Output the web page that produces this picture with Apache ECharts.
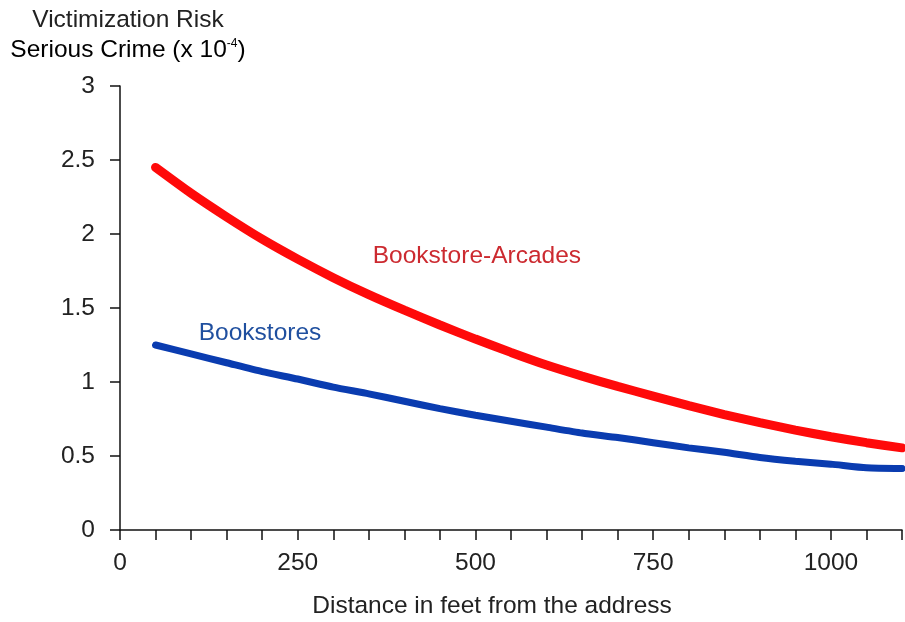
<!DOCTYPE html>
<html>
<head>
<meta charset="utf-8">
<script src="https://cdn.jsdelivr.net/npm/echarts@6/dist/echarts.min.js"></script>
<style>
html,body{margin:0;padding:0;background:#fff;}
#chart{width:905px;height:622px;}
</style>
</head>
<body>
<div id="chart"></div>
<script>
var distances = [50,100,150,200,250,300,350,400,450,500,550,600,650,700,750,800,850,900,950,1000,1050,1100];
var arcadesRisk = [2.45,2.275,2.115,1.965,1.83,1.705,1.59,1.485,1.385,1.29,1.20,1.115,1.04,0.97,0.905,0.84,0.78,0.725,0.675,0.63,0.59,0.555];
var bookstoresRisk = [1.25,1.19,1.13,1.07,1.02,0.965,0.92,0.87,0.82,0.775,0.735,0.695,0.655,0.625,0.59,0.555,0.525,0.49,0.465,0.445,0.42,0.415];
var xLabelValues = [0,250,500,750,1000];
var arcadesName = 'Bookstore-Arcades';
var bookstoresName = 'Bookstores';
var arcadesLabelAt = [502, 1.85];
var bookstoresLabelAt = [197, 1.33];

var font = '"Liberation Sans", Arial, sans-serif';
var fs = 24.5;
function pairs(xs, ys){ return xs.map(function(x,i){return [x, ys[i]];}); }

var chart = echarts.init(document.getElementById('chart'), null, {renderer:'canvas'});
chart.setOption({
  animation:false,
  backgroundColor:'#fff',
  grid:{left:120, right:0, top:86, bottom:92, containLabel:false},
  xAxis:{
    type:'value', min:0, max:1100, interval:50,
    axisLine:{show:true, lineStyle:{color:'#111', width:1.5}},
    axisTick:{show:true, length:10, lineStyle:{color:'#111', width:1.5}},
    splitLine:{show:false},
    axisLabel:{
      margin:21, fontSize:fs, color:'#222', fontFamily:font,
      formatter:function(v){ return xLabelValues.indexOf(v) >= 0 ? String(v) : ''; }
    }
  },
  yAxis:{
    type:'value', min:0, max:3, interval:0.5,
    axisLine:{show:true, onZero:false, lineStyle:{color:'#111', width:1.5}},
    axisTick:{show:true, length:10, lineStyle:{color:'#111', width:1.5}},
    splitLine:{show:false},
    axisLabel:{margin:25, fontSize:fs, color:'#222', fontFamily:font}
  },
  graphic:[
    {type:'text', x:128, y:20, style:{
      text:'Victimization Risk', textAlign:'center', textVerticalAlign:'middle',
      fontSize:fs, fontFamily:font, fill:'#222'}},
    {type:'text', x:128, y:50, style:{
      text:'{a|Serious Crime (x 10}{s|-4}{a|)}', textAlign:'center', textVerticalAlign:'middle',
      rich:{
        a:{fontSize:fs, fontFamily:font, color:'#222'},
        s:{fontSize:12, fontFamily:font, color:'#222', padding:[0,0,12,0]}
      }}},
    {type:'text', x:492, y:606, style:{
      text:'Distance in feet from the address', textAlign:'center', textVerticalAlign:'middle',
      fontSize:fs, fontFamily:font, fill:'#222'}}
  ],
  series:[
    {
      name:arcadesName, type:'line', data:pairs(distances, arcadesRisk),
      symbol:'none', smooth:0.2,
      lineStyle:{color:'#ff0a0a', width:9, cap:'round'},
      markPoint:{
        symbol:'circle', symbolSize:0,
        data:[{coord:arcadesLabelAt, value:arcadesName}],
        label:{show:true, position:'inside', formatter:arcadesName, fontSize:fs, fontFamily:font, color:'#cc2a30'}
      }
    },
    {
      name:bookstoresName, type:'line', data:pairs(distances, bookstoresRisk),
      symbol:'none', smooth:0.2,
      lineStyle:{color:'#0a3cb0', width:7, cap:'round'},
      markPoint:{
        symbol:'circle', symbolSize:0,
        data:[{coord:bookstoresLabelAt, value:bookstoresName}],
        label:{show:true, position:'inside', formatter:bookstoresName, fontSize:fs, fontFamily:font, color:'#1f4f9f'}
      }
    }
  ]
});
</script>
</body>
</html>
